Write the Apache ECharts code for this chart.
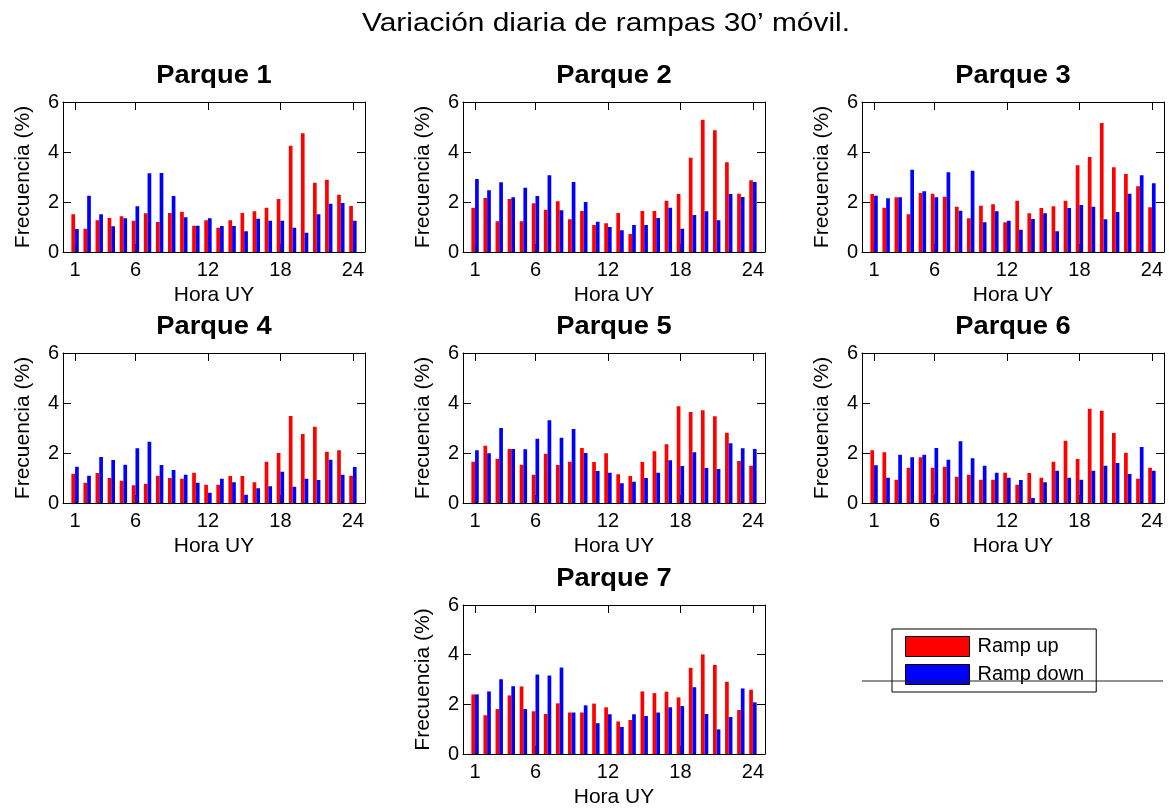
<!DOCTYPE html>
<html>
<head>
<meta charset="utf-8">
<script src="https://cdn.jsdelivr.net/npm/echarts@6/dist/echarts.min.js"></script>
<style>
html,body{margin:0;padding:0;background:#fff;}
#chart{width:1169px;height:809px;}
</style>
</head>
<body>
<div id="chart"></div>
<script>
const mainTitle = 'Variación diaria de rampas 30’ móvil.';
const parkNames = ['Parque 1','Parque 2','Parque 3','Parque 4','Parque 5','Parque 6','Parque 7'];
const seriesNames = ['Ramp up','Ramp down'];
const xLabel = 'Hora UY';
const yLabel = 'Frecuencia (%)';
const hours = [1,2,3,4,5,6,7,8,9,10,11,12,13,14,15,16,17,18,19,20,21,22,23,24];
const xTickValues = [1,6,12,18,24];

const rampUp1 = [1.51,0.93,1.27,1.36,1.43,1.25,1.55,1.20,1.56,1.61,1.05,1.27,0.97,1.27,1.56,1.63,1.77,2.12,4.25,4.75,2.77,2.89,2.29,1.84];
const rampDown1 = [0.92,2.25,1.51,1.03,1.35,1.83,3.15,3.16,2.24,1.39,1.05,1.35,1.04,1.04,0.83,1.33,1.25,1.25,0.97,0.77,1.51,1.93,1.96,1.25];
const rampUp2 = [1.77,2.16,1.23,2.12,1.23,1.95,1.69,2.03,1.31,1.64,1.08,1.15,1.56,0.72,1.64,1.64,2.05,2.32,3.77,5.29,4.87,3.59,2.33,2.87];
const rampDown2 = [2.92,2.47,2.79,2.19,2.57,2.24,3.07,1.67,2.80,2.00,1.21,1.00,0.87,1.08,1.08,1.36,1.77,0.93,1.48,1.63,1.27,2.32,2.20,2.80];
const rampUp3 = [2.32,1.77,2.19,1.51,2.36,2.33,2.21,1.81,1.35,1.85,1.91,1.19,2.05,1.55,1.76,1.83,2.05,3.47,3.80,5.16,3.39,3.12,2.63,1.79];
const rampDown3 = [2.25,2.15,2.19,3.29,2.43,2.19,3.19,1.65,3.25,1.19,1.63,1.25,0.89,1.32,1.55,0.83,1.76,1.88,1.81,1.31,1.60,2.33,3.07,2.75];
const rampUp4 = [1.17,0.81,1.20,1.00,0.89,0.71,0.77,1.09,1.00,0.97,1.21,0.73,0.73,1.08,1.08,0.83,1.65,2.00,3.48,2.76,3.05,2.05,2.11,1.09];
const rampDown4 = [1.45,1.09,1.84,1.72,1.53,2.19,2.45,1.52,1.32,1.13,0.81,0.41,0.97,0.83,0.33,0.59,0.67,1.25,0.65,0.97,0.92,1.73,1.13,1.44];
const rampUp5 = [1.65,2.29,1.77,2.16,1.53,1.13,1.97,1.52,1.65,2.20,1.64,1.99,1.15,1.08,1.64,2.07,2.35,3.87,3.64,3.71,3.47,2.81,1.68,1.49];
const rampDown5 = [2.11,1.99,3.00,2.16,2.15,2.57,3.31,2.61,2.96,2.00,1.28,1.21,0.79,0.85,1.00,1.21,1.71,1.48,2.03,1.40,1.36,2.39,2.19,2.16];
const rampUp6 = [2.11,2.03,0.93,1.41,1.83,1.41,1.45,1.05,1.13,0.93,0.93,1.21,0.73,1.20,1.01,1.65,2.49,1.76,3.77,3.69,2.80,2.01,0.97,1.41];
const rampDown6 = [1.51,1.01,1.93,1.83,1.93,2.20,1.73,2.47,1.79,1.49,1.21,1.01,0.92,0.20,0.83,1.29,1.01,0.93,1.29,1.49,1.60,1.16,2.24,1.29];
const rampUp7 = [2.40,1.56,1.81,2.36,2.72,1.72,1.61,2.04,1.67,1.67,2.03,1.88,1.31,1.37,2.52,2.45,2.51,2.28,3.47,4.01,3.59,2.91,1.77,2.59];
const rampDown7 = [2.40,2.52,3.01,2.73,1.81,3.20,3.16,3.48,1.67,1.96,1.24,1.60,1.09,1.60,1.53,1.67,1.88,1.93,2.69,1.61,0.99,1.49,2.64,2.08];

const upList = [rampUp1,rampUp2,rampUp3,rampUp4,rampUp5,rampUp6,rampUp7];
const downList = [rampDown1,rampDown2,rampDown3,rampDown4,rampDown5,rampDown6,rampDown7];

const FONT = '"Liberation Sans", Arial, Helvetica, sans-serif';
const colLefts = [63, 463, 862];
const rowTops = [102, 353, 605];
const gridW = 302, gridH = 150;
const panelPos = [[0,0],[0,1],[0,2],[1,0],[1,1],[1,2],[2,1]];

const grids = [], xAxes = [], yAxes = [], series = [], graphics = [];

graphics.push({type:'text', x:606, y:23.5, z:50, scaleX:1.15,
  style:{text:mainTitle, fill:'#000', fontSize:26, fontFamily:FONT, align:'center', verticalAlign:'middle'}});

panelPos.forEach(function(p, i){
  const left = colLefts[p[1]], top = rowTops[p[0]];
  grids.push({left:left, top:top, width:gridW, height:gridH, show:false, containLabel:false});
  // bottom x axis
  xAxes.push({type:'value', gridIndex:i, min:0, max:25, position:'bottom',
    axisLine:{show:true, onZero:false, lineStyle:{color:'#000', width:1}},
    axisTick:{show:true, inside:true, length:8, customValues:xTickValues, lineStyle:{color:'#000'}},
    axisLabel:{show:true, customValues:xTickValues, margin:8, color:'#000', fontSize:20, fontFamily:FONT},
    splitLine:{show:false},
    name:xLabel, nameLocation:'middle', nameGap:33,
    nameTextStyle:{color:'#000', fontSize:21, fontFamily:FONT}});
  // top mirror axis
  xAxes.push({type:'value', gridIndex:i, min:0, max:25, position:'top',
    axisLine:{show:true, onZero:false, lineStyle:{color:'#000', width:1}},
    axisTick:{show:true, inside:true, length:8, customValues:xTickValues, lineStyle:{color:'#000'}},
    axisLabel:{show:false}, splitLine:{show:false}});
  // left y axis
  yAxes.push({type:'value', gridIndex:i, min:0, max:6, interval:2, position:'left',
    axisLine:{show:true, onZero:false, lineStyle:{color:'#000', width:1}},
    axisTick:{show:true, inside:true, length:8, lineStyle:{color:'#000'}},
    axisLabel:{show:true, margin:4, color:'#000', fontSize:20, fontFamily:FONT},
    splitLine:{show:false},
    name:yLabel, nameLocation:'middle', nameGap:29,
    nameTextStyle:{color:'#000', fontSize:21, fontFamily:FONT}});
  // right mirror axis
  yAxes.push({type:'value', gridIndex:i, min:0, max:6, interval:2, position:'right',
    axisLine:{show:true, onZero:false, lineStyle:{color:'#000', width:1}},
    axisTick:{show:true, inside:true, length:8, lineStyle:{color:'#000'}},
    axisLabel:{show:false}, splitLine:{show:false}});

  const upData = hours.map(function(h, k){ return [h, upList[i][k]]; });
  const downData = hours.map(function(h, k){ return [h, downList[i][k]]; });
  series.push({type:'bar', name:seriesNames[0], xAxisIndex:2*i, yAxisIndex:2*i,
    data:upData, barWidth:3.7, barGap:'0%', itemStyle:{color:'#ff0000'}, z:3});
  series.push({type:'bar', name:seriesNames[1], xAxisIndex:2*i, yAxisIndex:2*i,
    data:downData, barWidth:3.7, barGap:'0%', itemStyle:{color:'#0000ff'}, z:3});

  graphics.push({type:'text', x:left + gridW/2, y:top - 26, z:50, scaleX:1.05,
    style:{text:parkNames[i], fill:'#000', fontSize:26, fontWeight:'bold', fontFamily:FONT, align:'center', verticalAlign:'middle'}});
});

graphics.push({type:'line', z:100, shape:{x1:862, y1:681, x2:1163, y2:681},
  style:{stroke:'#222', lineWidth:1}});

const chart = echarts.init(document.getElementById('chart'), null, {renderer:'canvas'});
chart.setOption({
  animation:false,
  backgroundColor:'#fff',
  grid:grids,
  xAxis:xAxes,
  yAxis:yAxes,
  series:series,
  legend:{show:true, left:892, top:629, orient:'vertical', itemWidth:64, itemHeight:20, itemGap:7,
    padding:[7,12,7,13], borderColor:'#000', borderWidth:1,
    data:seriesNames, selectedMode:false, icon:'rect',
    itemStyle:{borderColor:'#000', borderWidth:1},
    textStyle:{color:'#000', fontSize:20, fontFamily:FONT, padding:[0,0,0,3]}},
  graphic:graphics
});
</script>
</body>
</html>
